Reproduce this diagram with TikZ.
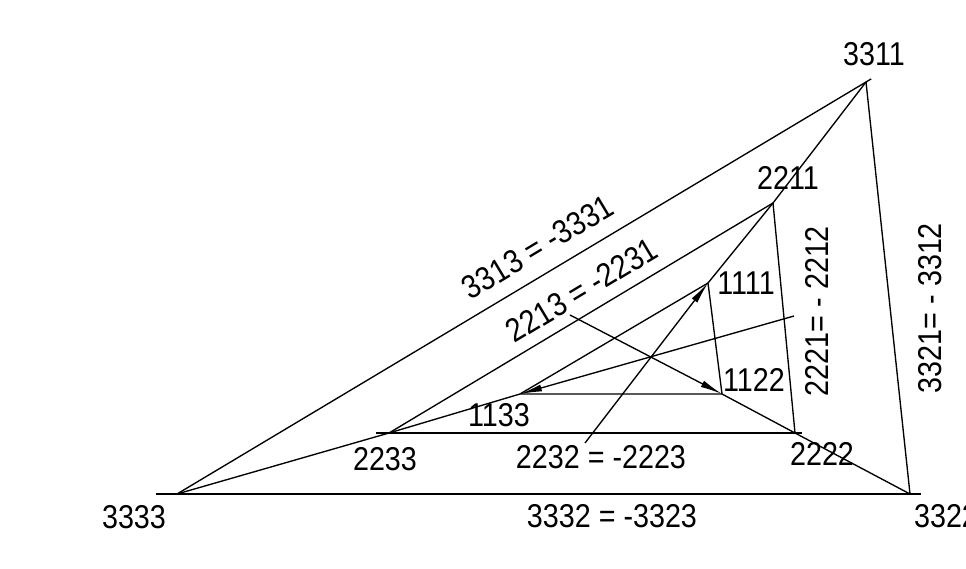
\documentclass[tikz,border=0pt]{standalone}
\usepackage{fontspec}
\setmainfont{Liberation Sans}[FakeStretch=0.87]
\usetikzlibrary{arrows.meta}

\begin{document}
\begin{tikzpicture}[x=1pt, y=-1pt, line width=1.35pt, font=\fontsize{33}{36}\selectfont,
  lbl/.style={inner sep=0pt},
  arr/.style={-{Latex[length=22pt,width=7pt]}}]
\useasboundingbox (0,0) rectangle (966,569);
% vertices
\coordinate (v3333) at (177,494);
\coordinate (v3311) at (866,82);
\coordinate (v3322) at (910,494);
\coordinate (v2233) at (389,433);
\coordinate (v2211) at (773,203);
\coordinate (v2222) at (795,433);
\coordinate (v1133) at (520,394);
\coordinate (v1111) at (708,283);
\coordinate (v1122) at (722,394);
% free ends of the arrows
\coordinate (a1111) at (585,443);
\coordinate (a1122) at (570,315);
\coordinate (a1133) at (794,316);
% labels
\node[lbl] (l3311) at (874,54) {3311};
\node[lbl] (l2211) at (788,178) {2211};
\node[lbl] (l1111) at (746,283) {1111};
\node[lbl] (l1122) at (754,380) {1122};
\node[lbl] (l1133) at (499,415) {1133};
\node[lbl] (l2233) at (385,459) {2233};
\node[lbl] (l2222) at (822,454) {2222};
\node[lbl] (l3333) at (134,517) {3333};
\node[lbl] (l3322) at (946,516) {3322};
\node[lbl] (l3332) at (612,516) {3332 = -3323};
\node[lbl] (l2232) at (601,457) {2232 = -2223};
\node[lbl, rotate=31] (l3313) at (538,247) {3313 = -3331};
\node[lbl, rotate=31] (l2213) at (582,290) {2213 = -2231};
\node[lbl, rotate=90] (l2221) at (817,311) {2221= - 2212};
\node[lbl, rotate=90] (l3321) at (930,308) {3321= - 3312};
% outer triangle
\draw[shorten <=-21pt, shorten >=-11pt] (v3333) -- (v3322);
\draw[shorten >=-6pt] (v3333) -- (v3311);
\draw (v3311) -- (v3322);
% middle triangle
\draw[shorten <=-13pt, shorten >=-7pt] (v2233) -- (v2222);
\draw (v2233) -- (v2211) -- (v2222);
% inner triangle
\draw (v1133) -- (v1122) -- (v1111) -- (v1133);
% rays through the corners
\draw (v3311) -- (v2211) -- (v1111);
\draw (v3333) -- (v2233) -- (v1133);
\draw (v3322) -- (v2222) -- (v1122);
% arrows
\draw[arr] (a1111) -- (v1111);
\draw[arr] (a1122) -- (v1122);
\draw[arr] (a1133) -- (v1133);
\end{tikzpicture}
\end{document}
